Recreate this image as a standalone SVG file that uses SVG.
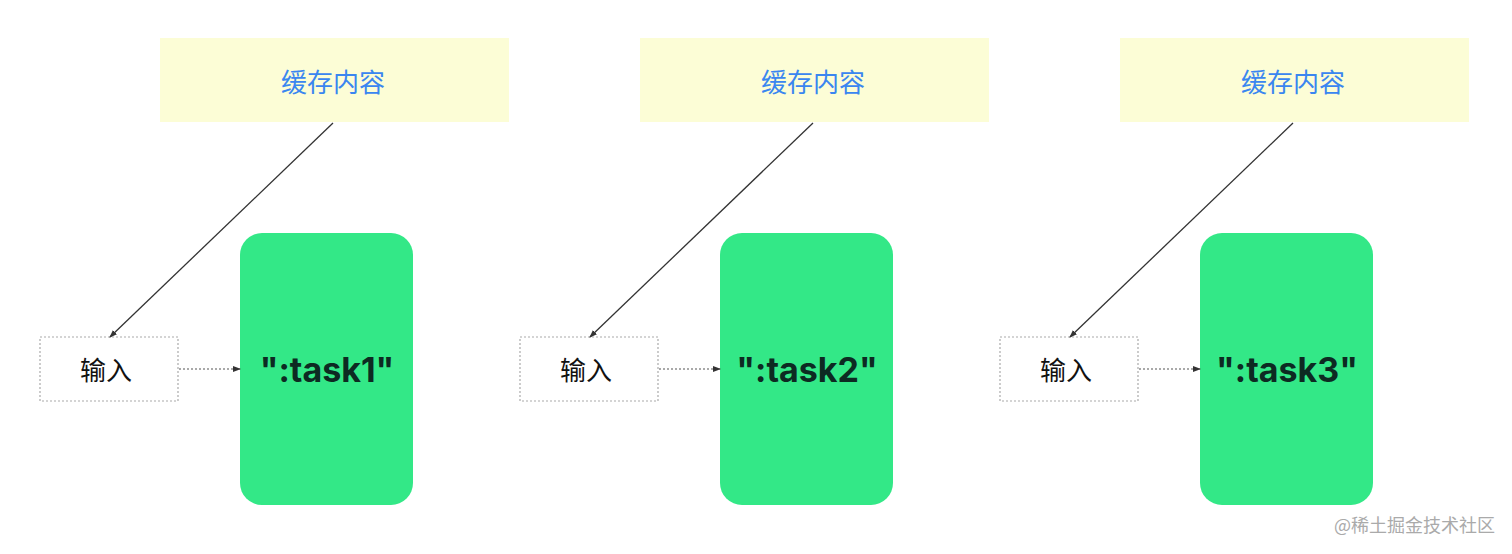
<svg xmlns="http://www.w3.org/2000/svg" width="1512" height="554" viewBox="0 0 1512 554">
<style>
.y{fill:#fcfdd6}
.yt{font-family:"Noto Sans CJK SC",sans-serif;font-size:26px;fill:#3a86f0;text-anchor:middle}
.g{fill:#33e887}
.gt{font-family:"Inter","Liberation Sans",sans-serif;font-weight:bold;font-size:34px;fill:#0d2a22;text-anchor:middle}
.in{fill:#fff;stroke:#aaa;stroke-width:1.2;stroke-dasharray:2 2}
.it{font-family:"Noto Sans CJK SC",sans-serif;font-size:26px;fill:#111;text-anchor:middle}
.c{stroke:#333;stroke-width:1.3;fill:none}
.d{stroke:#555;stroke-width:1.2;stroke-dasharray:2 2;fill:none}
</style>
<defs><marker id="a" markerWidth="8" markerHeight="8" refX="7" refY="4" orient="auto" markerUnits="userSpaceOnUse"><path d="M0,1 L8,4 L0,7z" fill="#333"/></marker></defs>
<rect width="1512" height="554" fill="#fff"/>
<g id="col1">
<g id="cache1"><rect class="y" x="160" y="38" width="349" height="84"/><text class="yt" x="333" y="92">缓存内容</text></g>
<g id="task1"><rect class="g" x="240" y="233" width="173" height="272" rx="22"/><text class="gt" x="327" y="382">":task1"</text></g>
<g id="input1"><rect class="in" x="40" y="337" width="138" height="64"/><text class="it" x="106" y="380">输入</text></g>
</g>
<g id="col2">
<g id="cache2"><rect class="y" x="640" y="38" width="349" height="84"/><text class="yt" x="813" y="92">缓存内容</text></g>
<g id="task2"><rect class="g" x="720" y="233" width="173" height="272" rx="22"/><text class="gt" x="807" y="382">":task2"</text></g>
<g id="input2"><rect class="in" x="520" y="337" width="138" height="64"/><text class="it" x="586" y="380">输入</text></g>
</g>
<g id="col3">
<g id="cache3"><rect class="y" x="1120" y="38" width="349" height="84"/><text class="yt" x="1293" y="92">缓存内容</text></g>
<g id="task3"><rect class="g" x="1200" y="233" width="173" height="272" rx="22"/><text class="gt" x="1287" y="382">":task3"</text></g>
<g id="input3"><rect class="in" x="1000" y="337" width="138" height="64"/><text class="it" x="1066" y="380">输入</text></g>
</g>
<g id="connectors">
<path class="c" d="M333,123 L110,337" marker-end="url(#a)"/>
<path class="c" d="M813,123 L590,337" marker-end="url(#a)"/>
<path class="c" d="M1293,123 L1070,337" marker-end="url(#a)"/>
<path class="d" d="M179,369 L240,369" marker-end="url(#a)"/>
<path class="d" d="M659,369 L720,369" marker-end="url(#a)"/>
<path class="d" d="M1139,369 L1200,369" marker-end="url(#a)"/>
</g>
<text x="1495" y="532" text-anchor="end" font-family="Noto Sans CJK SC,sans-serif" font-size="18" fill="#aaa">@稀土掘金技术社区</text>
</svg>
